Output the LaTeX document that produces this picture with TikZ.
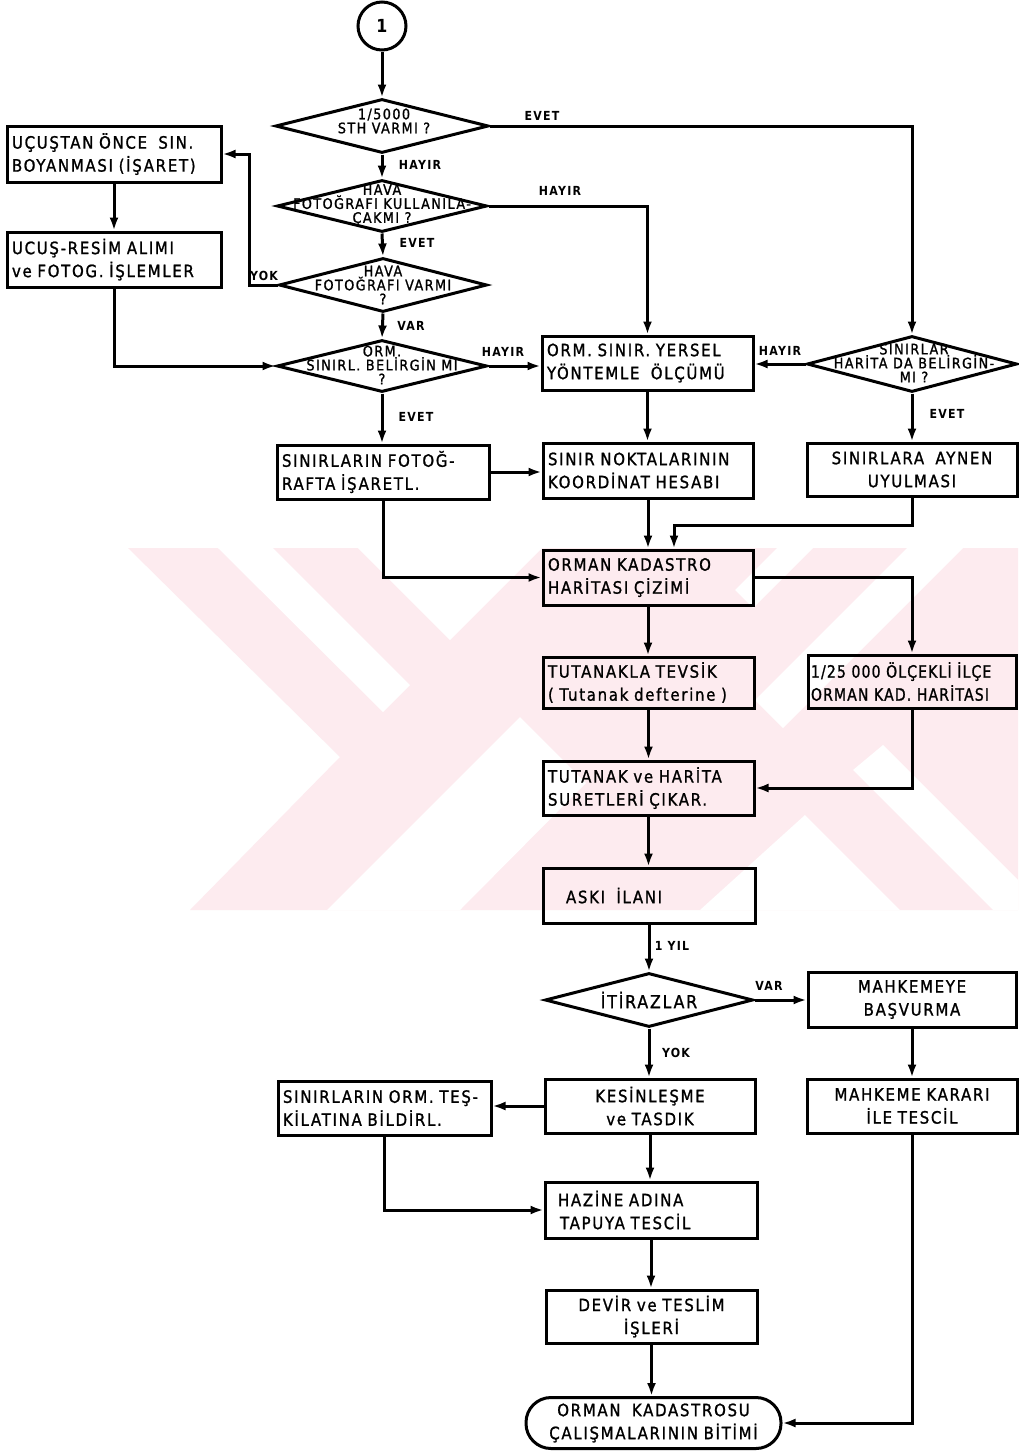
\documentclass[tikz,border=0pt]{standalone}
\usepackage{fontspec}
\setmainfont{DejaVu Sans}
\newfontfamily\bxf[FakeStretch=0.88,LetterSpace=10,FakeBold=1.2]{DejaVu Sans}
\newfontfamily\bxn[FakeStretch=0.82,LetterSpace=7,FakeBold=1.2]{DejaVu Sans}
\newfontfamily\lbf[FakeStretch=0.88,LetterSpace=10]{DejaVu Sans Bold}
\usetikzlibrary{arrows.meta,shapes.geometric}
\definecolor{wm}{RGB}{253,235,239}
\begin{document}
\begin{tikzpicture}[x=1pt,y=-1pt,
  box/.style={draw, line width=3pt, rectangle, inner xsep=5pt, inner ysep=0pt,
    font=\bxf\fontsize{17}{23}\selectfont, align=left},
  cbox/.style={box, align=center},
  dia/.style={draw, line width=3pt, diamond, inner sep=0pt},
  dtx/.style={font=\bxf\fontsize{14.5}{14}\selectfont, align=center, inner sep=0pt},
  lab/.style={font=\lbf\fontsize{12.5}{13}\selectfont, inner sep=0pt},
  arr/.style={line width=3pt, -{Latex[length=13pt,width=9pt]}}
]
\fill[white] (0,0) rectangle (1018,1451);
\useasboundingbox (0,0) rectangle (1018,1451);
% watermark
\begin{scope}
\clip (0,548) rectangle (1018,910);
\fill[wm] (128,548) -- (340,757) -- (190,910) -- (1030,910) -- (1030,548) -- cycle;
\fill[white] (218,548) -- (273,548) -- (410,685) -- (383,712) -- cycle;
\fill[white] (358,548) -- (450,640) -- (542,548) -- cycle;
\fill[white] (327,910) -- (460,910) -- (586,783) -- (520,717) -- cycle;
\fill[white] (777,548) -- (813,548) -- (753,608) -- (735,590) -- cycle;
\fill[white] (907,548) -- (963,548) -- (783,728) -- (755,700) -- cycle;
\fill[white] (853,770) -- (883,745) -- (1030,892) -- (1030,910) -- (993,910) -- cycle;
\fill[white] (700,910) -- (805,815) -- (900,910) -- cycle;
\end{scope}

% start circle
\node[draw, circle, line width=3pt, minimum size=48pt, inner sep=0pt,
  font=\lbf\fontsize{18}{18}\selectfont] (c1) at (382,26) {1};

% diamonds
\node[dia, minimum width=213pt, minimum height=54pt] (d1) at (382,126) {};
\node[dtx] (d1t) at (384,121) {1/5000\\STH VARMI ?};
\node[dia, minimum width=210pt, minimum height=52pt] (d2) at (382,206) {};
\node[dtx] (d2t) at (382,205) {HAVA\\FOTOĞRAFI KULLANILA-\\ÇAKMI ?};
\node[dia, minimum width=208pt, minimum height=54pt] (d3) at (383,285) {};
\node[dtx] (d3t) at (383,285) {HAVA\\FOTOĞRAFI VARMI\\?};
\node[dia, minimum width=210pt, minimum height=52pt] (d4) at (382,366) {};
\node[dtx] (d4t) at (382,365) {ORM.\\SINIRL. BELİRGİN MI\\?};
\node[dia, minimum width=210pt, minimum height=56pt] (d5) at (912,364) {};
\node[dtx] (d5t) at (914,363) {SINIRLAR\\HARİTA DA BELİRGİN-\\MI ?};
\node[dia, minimum width=208pt, minimum height=54pt] (d6) at (649,1000) {};
\node[font=\bxf\fontsize{18}{18}\selectfont, inner sep=0pt] (d6t) at (649,1000) {İTİRAZLAR};

% boxes
\node[box, minimum width=214pt, minimum height=56pt, text width=204pt] (l1) at (114,154)
  {UÇUŞTAN ÖNCE~~SIN.\\BOYANMASI (İŞARET)};
\node[box, minimum width=214pt, minimum height=55pt, text width=204pt] (l2) at (114,259.5)
  {UCUŞ-RESİM~ALIMI\\ve FOTOG. İŞLEMLER};
\node[box, minimum width=211pt, minimum height=54pt, text width=201pt] (borm) at (647.5,363)
  {ORM. SINIR. YERSEL\\YÖNTEMLE~~ÖLÇÜMÜ};
\node[box, minimum width=212pt, minimum height=54pt, text width=202pt] (sf) at (383,472)
  {SINIRLARIN~FOTOĞ-\\RAFTA~İŞARETL.};
\node[box, minimum width=210pt, minimum height=55pt, text width=200pt] (bsnk) at (648,470.5)
  {SINIR NOKTALARININ\\KOORDİNAT HESABI};
\node[cbox, minimum width=210pt, minimum height=53pt, text width=200pt] (r1) at (912,469.5)
  {SINIRLARA~~AYNEN\\UYULMASI};
\node[box, minimum width=210pt, minimum height=55pt, text width=200pt] (ok) at (648,577.5)
  {ORMAN KADASTRO\\HARİTASI ÇİZİMİ};
\node[box, minimum width=211pt, minimum height=51pt, text width=201pt] (t1) at (648.5,682.5)
  {TUTANAKLA TEVSİK\\( Tutanak defterine )};
\node[box, inner xsep=3pt, minimum width=208pt, minimum height=53pt, text width=202pt,
  font=\bxn\fontsize{17}{23}\selectfont] (r2) at (912,681.5)
  {1/25 000 ÖLÇEKLİ İLÇE\\ORMAN KAD. HARİTASI};
\node[box, minimum width=211pt, minimum height=54pt, text width=201pt] (t2) at (648.5,788)
  {TUTANAK ve HARİTA\\SURETLERİ ÇIKAR.};
\node[box, minimum width=212pt, minimum height=55pt, text width=202pt] (aski) at (649,895.5)
  {\hspace*{18pt}ASKI~~İLANI};
\node[cbox, minimum width=208pt, minimum height=55pt, text width=198pt] (mb) at (912,999.5)
  {MAHKEMEYE\\BAŞVURMA};
\node[cbox, minimum width=210pt, minimum height=54pt, text width=200pt] (kt) at (650,1106)
  {KESİNLEŞME\\ve TASDIK};
\node[box, minimum width=213pt, minimum height=54pt, text width=203pt] (so) at (384.5,1108)
  {SINIRLARIN ORM. TEŞ-\\KİLATINA BİLDİRL.};
\node[cbox, minimum width=210pt, minimum height=54pt, text width=200pt] (mk) at (912,1106)
  {MAHKEME KARARI\\İLE~TESCİL};
\node[box, minimum width=212pt, minimum height=56pt, text width=202pt] (hz) at (651,1210)
  {\hspace*{8pt}HAZİNE ADINA\\\hspace*{10pt}TAPUYA TESCİL};
\node[cbox, minimum width=211pt, minimum height=53pt, text width=201pt] (dt) at (651.5,1316.5)
  {DEVİR ve TESLİM\\İŞLERİ};
\node[cbox, rounded corners=25pt, minimum width=255pt, minimum height=51pt, text width=240pt] (end) at (653.5,1423)
  {ORMAN~~KADASTROSU\\ÇALIŞMALARININ BİTİMİ};

% labels
\node[lab] (lb1) at (420,165) {HAYIR};
\node[lab] (lb2) at (542,116) {EVET};
\node[lab] (lb3) at (417,243) {EVET};
\node[lab] (lb4) at (560,191) {HAYIR};
\node[lab] (lb5) at (264,276) {YOK};
\node[lab] (lb6) at (411,326) {VAR};
\node[lab] (lb7) at (503,352) {HAYIR};
\node[lab] (lb8) at (416,417) {EVET};
\node[lab] (lb9) at (780,351) {HAYIR};
\node[lab] (lb10) at (947,414) {EVET};
\node[lab] (lb11) at (672,946) {1 YIL};
\node[lab] (lb12) at (769,986) {VAR};
\node[lab] (lb13) at (676,1053) {YOK};

% connectors
\draw[arr] (c1.south) -- (d1.north);
\draw[arr] (d1.south) -- (d2.north);
\draw[arr] (d2.south) -- (d3.north);
\draw[arr] (d3.south) -- (d4.north);
\draw[arr] (d1.east) -| (d5.north);
\draw[arr] (d2.east) -| (borm.north);
\draw[arr] (d3.west) -| ([xshift=27pt]l1.east) -- (l1.east);
\draw[arr] (l1.south) -- (l2.north);
\draw[arr] (l2.south) |- (d4.west);
\draw[arr] (d4.east) -- (d4.east -| borm.west);
\draw[arr] (d5.west) -- (d5.west -| borm.east);
\draw[arr] (d4.south) -- (d4.south |- sf.north);
\draw[arr] (borm.south) -- (borm.south |- bsnk.north);
\draw[arr] (d5.south) -- (d5.south |- r1.north);
\draw[arr] (sf.east) -- (sf.east -| bsnk.west);
\draw[arr] (sf.south) |- (ok.west);
\draw[arr] (bsnk.south) -- (bsnk.south |- ok.north);
\coordinate (j1) at (674,525);
\draw[arr] (r1.south) |- (j1) -- (j1 |- ok.north);
\draw[arr] (ok.east) -| (r2.north);
\draw[arr] (ok.south) -- (ok.south |- t1.north);
\draw[arr] (t1.south) -- (t1.south |- t2.north);
\draw[arr] (r2.south) |- (t2.east);
\draw[arr] (t2.south) -- (t2.south |- aski.north);
\draw[arr] (aski.south) -- (aski.south |- d6.north);
\draw[arr] (d6.east) -- (d6.east -| mb.west);
\draw[arr] (d6.south) -- (d6.south |- kt.north);
\draw[arr] (mb.south) -- (mb.south |- mk.north);
\draw[arr] (kt.west) -- (kt.west -| so.east);
\draw[arr] (so.south) |- (hz.west);
\draw[arr] (kt.south) -- (kt.south |- hz.north);
\draw[arr] (hz.south) -- (hz.south |- dt.north);
\draw[arr] (dt.south) -- (dt.south |- end.north);
\draw[arr] (mk.south) |- (end.east);
\end{tikzpicture}
\end{document}
